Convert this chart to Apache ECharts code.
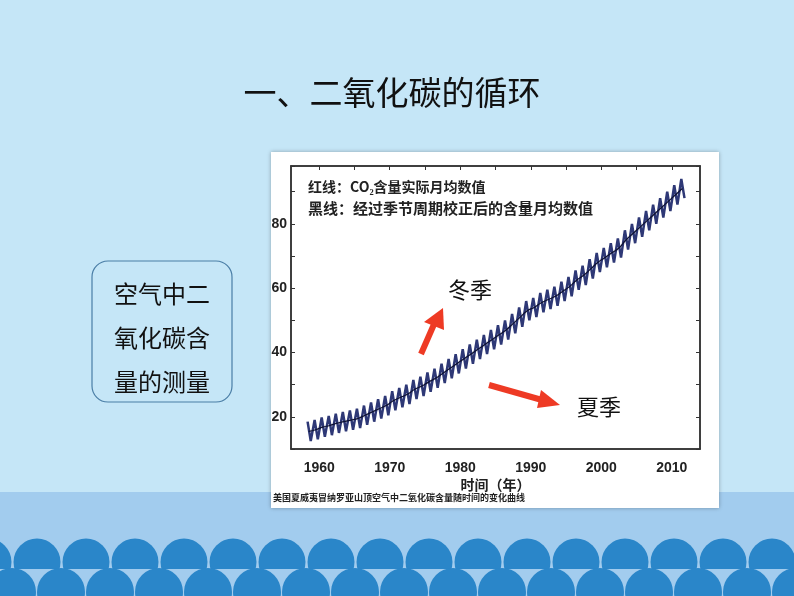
<!DOCTYPE html>
<html><head><meta charset="utf-8">
<script src="https://cdn.jsdelivr.net/npm/echarts@6/dist/echarts.min.js"></script>
<style>html,body{margin:0;padding:0;}#c{width:794px;height:596px;}</style>
</head><body><div id="c"></div>
<script>
const years = [1958,1959,1960,1961,1962,1963,1964,1965,1966,1967,1968,1969,1970,1971,1972,1973,1974,1975,1976,1977,1978,1979,1980,1981,1982,1983,1984,1985,1986,1987,1988,1989,1990,1991,1992,1993,1994,1995,1996,1997,1998,1999,2000,2001,2002,2003,2004,2005,2006,2007,2008,2009,2010,2011];
const trend = [15.5,16,16.8,17.3,18,18.5,19,19.5,20.5,21.5,22.5,23.5,25,26,27,28.5,29.5,30.8,32,33.5,35,36.5,38,39.5,41,42.5,44,45.5,47,49,51,53,54,55.5,56.5,57.5,59,60.5,62.5,64,66,68,69.5,71,72.5,75,77,79,81,83,85,87,89,91];
const peaks = [18.5,19,19.8,20.3,21,21.5,22,22.5,23.5,24.5,25.5,26.5,28,29,30,31.5,32.5,33.8,35,36.5,38,39.5,41,42.5,44,45.5,47,48.5,50,52,54,56,57,58.5,59.5,60.5,62,63.5,65.5,67,69,71,72.5,74,75.5,78,80,82,84,86,88,90,92,94];
const troughs = [12.5,13,13.8,14.3,15,15.5,16,16.5,17.5,18.5,19.5,20.5,22,23,24,25.5,26.5,27.8,29,30.5,32,33.5,35,36.5,38,39.5,41,42.5,44,46,48,50,51,52.5,53.5,54.5,56,57.5,59.5,61,63,65,66.5,68,69.5,72,74,76,78,80,82,84,86,88];
const xTicks = [1960,1970,1980,1990,2000,2010];
const yLabels = [20,40,60,80];

const wiggle = [];
years.forEach((y,i)=>{ wiggle.push([y+0.35,peaks[i]]); wiggle.push([y+0.8,troughs[i]]); });
const smooth = years.map((y,i)=>[y+0.5,trend[i]]);

const g = [];
g.push({type:'rect',z:-10,shape:{x:0,y:0,width:794,height:596},style:{fill:'#c5e6f7'}});
g.push({type:'rect',z:-9,shape:{x:0,y:492,width:794,height:104},style:{fill:'#a2ccee'}});
for(let k=-1;k<18;k++) g.push({type:'circle',z:-8,shape:{cx:37+k*49,cy:562,r:23.5},style:{fill:'#2a86c9'}});
g.push({type:'rect',z:-7,shape:{x:0,y:569,width:794,height:27},style:{fill:'#a2ccee'}});
for(let k=-1;k<18;k++) g.push({type:'circle',z:-6,shape:{cx:12+k*49,cy:592,r:24},style:{fill:'#2a86c9'}});
g.push({type:'text',z:5,style:{text:'一、二氧化碳的循环',x:392,y:92,align:'center',verticalAlign:'middle',font:'33px "Noto Sans CJK SC"',fill:'#111'}});
g.push({type:'rect',z:5,shape:{x:92,y:261,width:140,height:141,r:16},style:{fill:'#c5e6f7',stroke:'#4a7ea6',lineWidth:1.2}});
['空气中二','氧化碳含','量的测量'].forEach((t,i)=>g.push({type:'text',z:6,style:{text:t,x:162,y:294+i*44,align:'center',verticalAlign:'middle',font:'24px "Noto Sans CJK SC"',fill:'#111'}}));
g.push({type:'rect',z:-5,shape:{x:271,y:152,width:448,height:356},style:{fill:'#fff',shadowBlur:4,shadowColor:'rgba(0,0,0,0.3)'}});
g.push({type:'text',z:6,style:{text:'红线：CO₂含量实际月均数值',x:308,y:187,verticalAlign:'middle',font:'bold 14px "Noto Sans CJK SC"',fill:'#222'}});
g.push({type:'text',z:6,style:{text:'黑线：经过季节周期校正后的含量月均数值',x:308,y:208,verticalAlign:'middle',font:'bold 15px "Noto Sans CJK SC"',fill:'#222'}});
g.push({type:'text',z:6,style:{text:'冬季',x:470,y:290,align:'center',verticalAlign:'middle',font:'22px "Noto Sans CJK SC"',fill:'#111'}});
g.push({type:'text',z:6,style:{text:'夏季',x:599,y:407,align:'center',verticalAlign:'middle',font:'22px "Noto Sans CJK SC"',fill:'#111'}});
g.push({type:'text',z:6,style:{text:'美国夏威夷冒纳罗亚山顶空气中二氧化碳含量随时间的变化曲线',x:273,y:498,verticalAlign:'middle',font:'bold 9px "Noto Sans CJK SC"',fill:'#222'}});
g.push({type:'line',z:6,shape:{x1:421,y1:354,x2:435,y2:322},style:{stroke:'#ee3a24',lineWidth:6}});
g.push({type:'polygon',z:6,shape:{points:[[443,308],[424,322],[444,330]]},style:{fill:'#ee3a24'}});
g.push({type:'line',z:6,shape:{x1:489,y1:385,x2:542,y2:400},style:{stroke:'#ee3a24',lineWidth:6}});
g.push({type:'polygon',z:6,shape:{points:[[560,405],[541,390],[537,408]]},style:{fill:'#ee3a24'}});

const chart = echarts.init(document.getElementById('c'));
const axLine = {show:true,onZero:false,lineStyle:{color:'#333',width:1.5}};
chart.setOption({
  animation:false,
  graphic:g,
  grid:{left:291,top:166,width:409,height:283,show:true,borderColor:'#333',borderWidth:1.5},
  xAxis:[{type:'value',min:1956,max:2014,interval:10,axisLine:axLine,
    axisTick:{show:false},splitLine:{show:false},
    axisLabel:{fontSize:14,fontWeight:'bold',color:'#222',margin:12,
      customValues:xTicks,formatter:v=>xTicks.includes(v)?v:''},
    name:'时间（年）',nameLocation:'middle',nameGap:29,
    nameTextStyle:{fontSize:14,fontWeight:'bold',color:'#222',fontFamily:'Noto Sans CJK SC'}},
    {type:'value',position:'top',min:1956,max:2014,axisLine:axLine,axisLabel:{show:false},
     axisTick:{show:true,inside:true,length:4,customValues:[1960,1965,1970,1975,1980,1985,1990,1995,2000,2005,2010]},splitLine:{show:false}}],
  yAxis:[{type:'value',min:10,max:98,interval:10,axisLine:axLine,
    axisTick:{show:true,inside:true,length:4},splitLine:{show:false},
    axisLabel:{fontSize:14,fontWeight:'bold',color:'#222',margin:4,
      formatter:v=>yLabels.includes(v)?v:''}},
    {type:'value',position:'right',min:10,max:98,interval:10,axisLine:axLine,axisLabel:{show:false},
     axisTick:{show:true,inside:true,length:4},splitLine:{show:false}}],
  series:[
    {type:'line',data:wiggle,symbol:'none',lineStyle:{color:'#2e3876',width:2.5}},
    {type:'line',data:smooth,symbol:'none',smooth:true,lineStyle:{color:'#0d1030',width:1.2}}
  ]
});
</script></body></html>
